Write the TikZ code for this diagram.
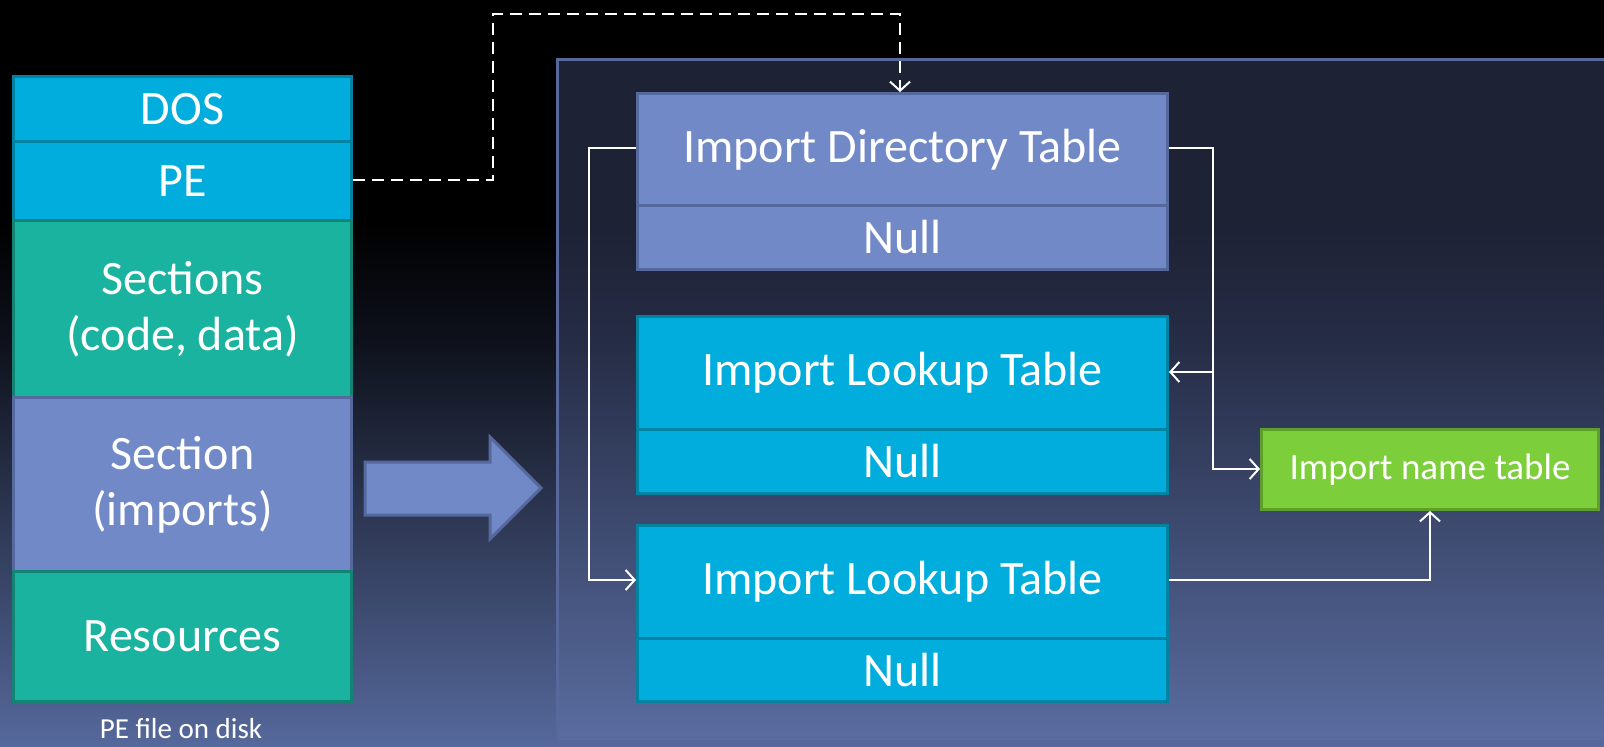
\documentclass[tikz,border=0pt]{standalone}
\usepackage{fontspec}
\setmainfont{Carlito}
\usetikzlibrary{arrows.meta}
\definecolor{cyanf}{HTML}{00ADDC}
\definecolor{cyanb}{HTML}{0082A3}
\definecolor{tealf}{HTML}{1AB39F}
\definecolor{tealb}{HTML}{138374}
\definecolor{perif}{HTML}{7289C8}
\definecolor{perib}{HTML}{56699F}
\definecolor{greenf}{HTML}{7DCE3B}
\definecolor{greenb}{HTML}{5E9E2A}
\definecolor{bgmid}{HTML}{0E111B}
\definecolor{bgbot}{HTML}{56699C}
\definecolor{pantop}{HTML}{1E2235}
\definecolor{panmid}{HTML}{252C45}
\definecolor{panbot}{HTML}{5A6DA0}
\definecolor{panb}{HTML}{56689C}
\tikzset{
  x=1pt, y=-1pt,
  blk/.style={draw, line width=3pt, anchor=north west, inner sep=0pt,
    text=white, font=\fontsize{48}{56}\selectfont, align=center},
  cyanbox/.style={blk, fill=cyanf, draw=cyanb},
  tealbox/.style={blk, fill=tealf, draw=tealb},
  peribox/.style={blk, fill=perif, draw=perib},
  greenbox/.style={blk, fill=greenf, draw=greenb, font=\fontsize{37}{44}\selectfont},
  conn/.style={draw=white, line width=2pt},
  tip/.style={-{Straight Barb[length=9pt,width=20pt,line width=2pt]}},
}
\begin{document}
\begin{tikzpicture}
\useasboundingbox (0,0) rectangle (1604,747);
% background
\fill[black] (0,0) rectangle (1604,220);
\shade[top color=black, bottom color=bgmid] (0,219) rectangle (1604,340);
\shade[top color=bgmid, bottom color=bgbot] (0,339) rectangle (1604,747);
% panel
\fill[pantop] (557,59) rectangle (1610,230);
\shade[top color=pantop, bottom color=panmid] (557,229) rectangle (1610,340);
\shade[top color=panmid, bottom color=panbot] (557,339) rectangle (1610,741);
\draw[panb, line width=3pt] (1610,59) -- (557,59) -- (557,741) -- (1610,741);
% left stack
\node[cyanbox, minimum width=338, minimum height=65] (dos) at (12,75) {DOS};
\node[cyanbox, minimum width=338, minimum height=79] (pe) at (12,140) {PE};
\node[tealbox, minimum width=338, minimum height=177] (sec) at (12,219) {Sections\\(code, data)};
\node[peribox, minimum width=338, minimum height=174] (imp) at (12,396) {Section\\(imports)};
\node[tealbox, minimum width=338, minimum height=130] (res) at (12,570) {Resources};
\node[text=white, font=\fontsize{29}{34}\selectfont, inner sep=1pt] (lbl) at (181,729) {PE file on disk};
% fat arrow
\draw[fill=perif, draw=perib, line width=3pt] (365,462) -- (490,462) -- (490,437) -- (541,488) -- (490,539) -- (490,515) -- (365,515) -- cycle;
% right tables
\node[peribox, minimum width=530, minimum height=112] (idt) at (636,92) {Import Directory Table};
\node[peribox, minimum width=530, minimum height=64] (idtn) at (636,204) {Null};
\node[cyanbox, minimum width=530, minimum height=113] (lt1) at (636,315) {Import Lookup Table};
\node[cyanbox, minimum width=530, minimum height=64] (lt1n) at (636,428) {Null};
\node[cyanbox, minimum width=530, minimum height=113] (lt2) at (636,524) {Import Lookup Table};
\node[cyanbox, minimum width=530, minimum height=63] (lt2n) at (636,637) {Null};
\node[greenbox, minimum width=337, minimum height=80] (int) at (1260,428) {Import name table};
% coordinates
\coordinate (d1) at (493,180);
\coordinate (d2) at (493,14);
\coordinate (d3) at (900,14);
\coordinate (l1) at (589,148);
\coordinate (l2) at (589,580);
\coordinate (r1) at (1213,148);
\coordinate (r2) at (1213,372);
\coordinate (r3) at (1213,469);
\coordinate (b1) at (1430,580);
% dashed connector
\draw[conn, line width=2.6pt, dash pattern=on 12pt off 7pt, tip] (pe.east |- d1) -- (d1) -- (d2) -- (d3) -- (d3 |- idt.north);
% left connector
\draw[conn, tip] (idt.west |- l1) -- (l1) -- (l2) -- (lt2.west |- l2);
% right connector
\draw[conn, tip] (idt.east |- r1) -- (r1) -- (r3) -- (int.west |- r3);
\draw[conn, tip] (r2) -- (lt1.east |- r2);
% lookup 2 to name table
\draw[conn, tip] (lt2.east |- b1) -- (b1) -- (b1 |- int.south);
\end{tikzpicture}
\end{document}
